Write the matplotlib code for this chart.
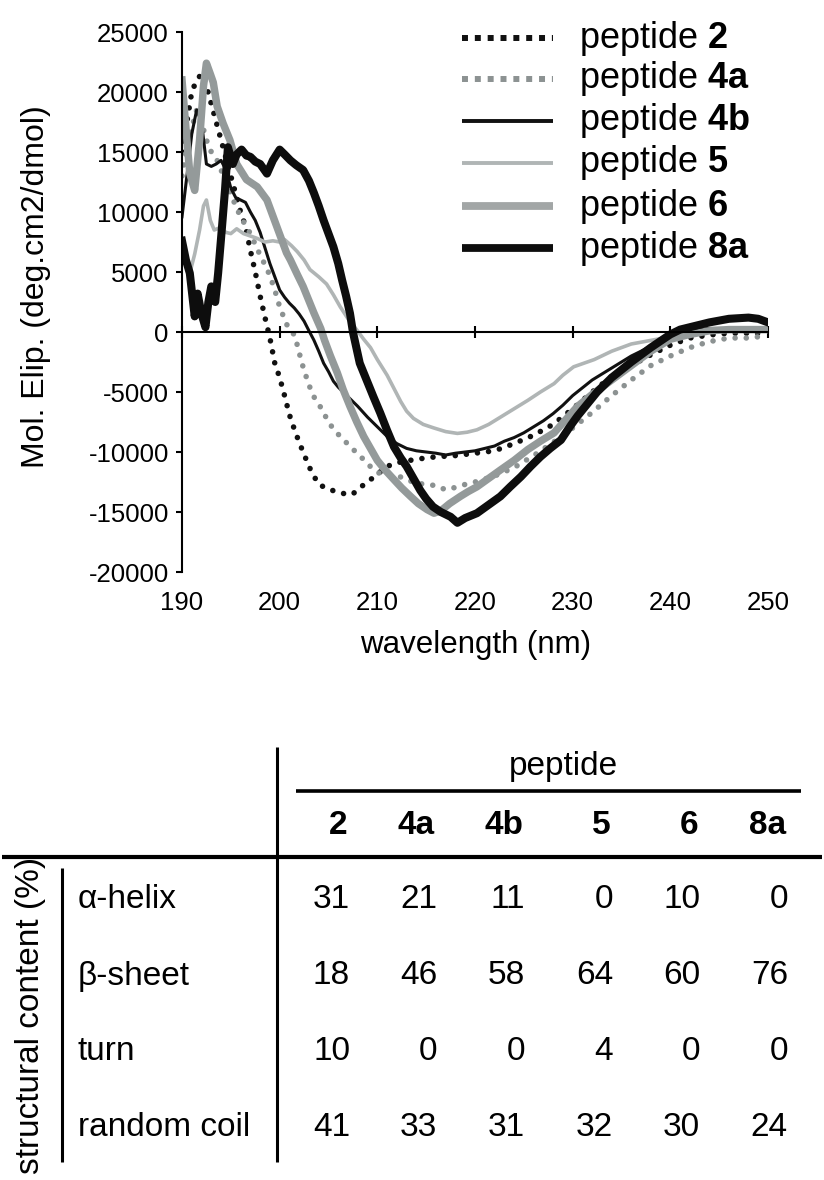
import matplotlib
matplotlib.use("Agg")
import matplotlib.pyplot as plt
from matplotlib.lines import Line2D

plt.rcParams['font.family'] = ['Liberation Sans', 'DejaVu Sans']
plt.rcParams['mathtext.fontset'] = 'custom'
plt.rcParams['mathtext.rm'] = 'Liberation Sans'
plt.rcParams['mathtext.bf'] = 'Liberation Sans:bold'

# ---------------- CD spectra data ----------------
wl_2 = [190, 190.5, 191, 191.5, 192, 192.5, 193, 193.5, 194, 194.5, 195, 195.5, 196,
        196.5, 197, 197.5, 198, 198.5, 199, 199.5, 200, 200.5, 201, 201.5, 202, 202.5,
        203, 203.5, 204, 205, 206, 207, 207.5, 208, 209, 210, 211, 212, 214, 216, 218,
        220, 222, 224, 226, 228, 230, 232, 234, 236, 238, 240, 242, 244, 246, 248, 250]
cd_2 = [15000, 17500, 20000, 21000, 21500, 20500, 19000, 17500, 16000, 14500, 13000,
        11500, 10000, 8800, 6800, 5000, 3000, 1200, -500, -2600, -3800, -5300, -6900,
        -8100, -9200, -10200, -11200, -12000, -12700, -13100, -13350, -13550, -13500,
        -13100, -12500, -11850, -11200, -10900, -10600, -10400, -10300, -10100, -9900,
        -9300, -8600, -7700, -6400, -5000, -3700, -2800, -1900, -1100, -500, -250, -100,
        -100, -100]

wl_4a = [190, 190.5, 191, 191.5, 192, 192.5, 193, 193.5, 194, 194.5, 195, 195.5, 196,
         196.5, 197, 197.5, 198, 198.5, 199, 199.5, 200, 200.7, 201.5, 201.9, 202.2,
         202.6, 203, 203.5, 204.2, 204.8, 205.5, 206.4, 207.3, 208.3, 209.3, 210.3, 211,
         212, 213, 214, 215, 216, 217, 218, 219, 220, 222, 224, 226, 228, 230, 232, 234,
         236, 238, 240, 242, 244, 246, 248, 250]
cd_4a = [13000, 15500, 17000, 18500, 17500, 16000, 15000, 14500, 13500, 12500, 11500,
         10500, 9600, 8900, 8200, 7300, 6400, 5600, 4700, 3500, 2100, 650, -250, -1360,
         -2390, -3440, -4420, -5390, -6280, -7190, -8110, -8860, -9610, -10390, -11220,
         -11830, -11900, -11950, -12300, -12600, -12700, -12800, -13150, -12950, -12700,
         -12500, -12000, -11300, -10300, -9200, -8000, -6700, -5300, -4000, -2800, -2000,
         -1300, -800, -500, -500, -300]

wl_4b = [190, 190.5, 191, 191.5, 192, 192.5, 193, 193.5, 194, 194.5, 195, 195.5, 196,
         196.5, 197, 197.5, 198, 198.5, 199, 199.5, 200, 200.5, 201, 201.5, 202, 202.5,
         203, 203.5, 204, 204.5, 205, 205.5, 206, 207, 208, 209, 210, 211, 212, 213, 214,
         215, 216, 217, 218, 219, 220, 221, 222, 223, 224, 225, 226, 227, 228, 229, 230,
         232, 234, 236, 238, 240, 242, 244, 246, 248, 250]
cd_4b = [9600, 13000, 16500, 18500, 17500, 14000, 13800, 14000, 14300, 13500, 12000,
         11200, 11000, 10800, 10000, 9300, 8300, 7000, 5700, 4600, 3500, 2900, 2400, 2000,
         1500, 900, 100, -670, -1600, -2600, -3300, -4100, -4600, -5400, -6200, -7100,
         -7900, -8700, -9300, -9700, -9900, -10000, -10100, -10250, -10100, -10000, -9900,
         -9700, -9500, -9100, -8800, -8400, -7900, -7400, -6800, -6100, -5300, -4000,
         -3000, -2000, -1200, -300, 100, 300, 300, 300, 200]

wl_5 = [190, 190.4, 190.8, 191.3, 191.8, 192.2, 192.5, 192.9, 193.3, 193.9, 194.5, 195,
        195.6, 196.3, 197, 197.7, 198.5, 199.3, 200, 200.5, 201.2, 201.8, 202.5, 203.1,
        204, 204.8, 205.5, 206.2, 207, 207.9, 208.6, 209.3, 210, 211, 211.7, 212.4, 213,
        213.7, 214.7, 215.8, 217, 218.2, 219.2, 220.2, 221.4, 222.6, 224, 225.4, 226.7,
        228.1, 229, 230.1, 232.2, 234, 236, 238, 240, 242, 244, 246, 248, 250]
cd_5 = [6800, 5500, 4900, 6500, 8500, 10500, 11000, 9300, 8500, 8700, 8300, 8200, 8600,
        8200, 8000, 7800, 7500, 7600, 7500, 7700, 7200, 6700, 6000, 5200, 4600, 4000, 3100,
        2100, 1100, 170, -600, -1300, -2300, -3600, -4700, -5800, -6600, -7200, -7700,
        -8000, -8300, -8450, -8350, -8150, -7700, -7100, -6400, -5700, -5000, -4300, -3600,
        -2900, -2300, -1600, -1000, -700, -400, -100, 0, 100, 200, 100]

wl_6 = [190, 190.5, 190.8, 191.3, 191.8, 192.2, 192.5, 192.9, 193.2, 193.6, 194.2, 194.9,
        195.6, 196.6, 197.7, 198.7, 199.7, 200.7, 201.1, 201.8, 202.4, 203, 203.5, 204.2,
        204.6, 205.2, 205.9, 206.5, 207.2, 207.9, 208.6, 209.3, 210, 210.8, 211.7, 212.5,
        213.4, 214.2, 215.1, 215.8, 216.5, 217.4, 218.5, 219.3, 220.2, 221.4, 222.6, 224,
        225.4, 226.7, 228.1, 229.3, 230.5, 232, 234, 236, 238, 240, 242, 244, 246, 248, 250]
cd_6 = [21000, 16000, 13200, 11800, 16000, 20500, 22400, 21500, 20800, 18800, 17400,
        16000, 14000, 12700, 12100, 11000, 8800, 6600, 6000, 4800, 3800, 2600, 1600, 300,
        -700, -2000, -3400, -4800, -6200, -7500, -8700, -9700, -10700, -11500, -12300,
        -13000, -13700, -14300, -14800, -15100, -14900, -14300, -13700, -13300, -12900,
        -12200, -11500, -10700, -9800, -9100, -8400, -7300, -6200, -5200, -4000, -2800,
        -1600, -600, -200, 100, 200, 200, 200]

wl_8a = [190, 190.4, 190.8, 191.3, 191.6, 192, 192.4, 192.7, 193, 193.4, 193.7, 194.1,
         194.4, 194.7, 195.2, 195.6, 196.1, 196.6, 197, 197.5, 198, 198.7, 199.3, 200,
         200.5, 201.1, 201.7, 202.4, 203, 203.5, 204, 204.5, 205, 205.5, 206, 206.4, 206.8,
         207.2, 207.5, 208.2, 208.9, 209.6, 210.3, 211, 211.7, 212.4, 213, 213.7, 214.4,
         215, 215.7, 216.5, 217.5, 218.2, 219, 220.2, 221.4, 222.6, 223.6, 224.7, 225.7,
         226.7, 227.7, 228.8, 229.7, 230.5, 231.5, 232.5, 234, 236, 238, 240, 241, 242,
         244, 246, 248, 249, 250]
cd_8a = [7600, 6000, 4900, 1300, 3200, 1500, 400, 2500, 3800, 2500, 4900, 8800, 11800,
         15400, 14000, 14800, 15200, 14700, 14600, 14200, 14000, 13200, 14300, 15200,
         14800, 14300, 13900, 13500, 12600, 11600, 10500, 9300, 8200, 7100, 5700, 4300,
         3000, 1550, 0, -2600, -4000, -5400, -6750, -8200, -9560, -10500, -11200, -12200,
         -13200, -13900, -14560, -15000, -15400, -15900, -15500, -15100, -14400, -13700,
         -12900, -12060, -11200, -10400, -9700, -9000, -7900, -7000, -6000, -5000, -3800,
         -2500, -1300, -200, 200, 400, 800, 1100, 1200, 1100, 800]

series_labels = ['2', '4a', '4b', '5', '6', '8a']
x_ticks = [190, 200, 210, 220, 230, 240, 250]
y_ticks = [25000, 20000, 15000, 10000, 5000, 0, -5000, -10000, -15000, -20000]

# ---------------- table data ----------------
structures = ['α-helix', 'β-sheet', 'turn', 'random coil']
helix = [31, 21, 11, 0, 10, 0]
sheet = [18, 46, 58, 64, 60, 76]
turn = [10, 0, 0, 4, 0, 0]
coil = [41, 33, 31, 32, 30, 24]

# ---------------- figure ----------------
W, H = 824, 1180
fig = plt.figure(figsize=(W / 100, H / 100), dpi=100)


def fx(px):
    return px / W


def fy(py):
    return 1 - py / H


ax = fig.add_axes([fx(182), fy(572), fx(768) - fx(182), fy(32) - fy(572)])

styles = [
    dict(color='#111111', lw=4.0, linestyle=(0, (0.01, 2.0)), dash_capstyle='round'),
    dict(color='#8c9292', lw=4.0, linestyle=(0, (0.01, 2.0)), dash_capstyle='round'),
    dict(color='#111111', lw=2.2, linestyle='-'),
    dict(color='#b0b5b5', lw=2.6, linestyle='-'),
    dict(color='#949a9a', lw=5.4, linestyle='-'),
    dict(color='#0d0d0d', lw=5.8, linestyle='-'),
]
data = [(wl_2, cd_2), (wl_4a, cd_4a), (wl_4b, cd_4b), (wl_5, cd_5), (wl_6, cd_6),
        (wl_8a, cd_8a)]
for (xs, ys), st in zip(data, styles):
    ax.plot(xs, ys, solid_joinstyle='round', **st)

ax.set_xlim(190, 250)
ax.set_ylim(-20000, 25000)
for s in ['top', 'right']:
    ax.spines[s].set_visible(False)
ax.spines['bottom'].set_position(('data', 0))
ax.spines['bottom'].set_linewidth(1.5)
ax.spines['left'].set_linewidth(1.5)
ax.set_xticks(x_ticks)
ax.set_yticks(y_ticks)
ax.set_yticklabels([str(v) for v in y_ticks])
ax.tick_params(axis='x', direction='inout', length=9, width=1.5, labelbottom=False)
ax.tick_params(axis='y', direction='out', length=4.5, width=1.5, labelsize=18.5, pad=5)
for t in x_ticks:
    ax.text(t, -0.057, str(t), transform=ax.get_xaxis_transform(), ha='center',
            va='center', fontsize=18.5)

fig.text(fx(36), fy(287), 'Mol. Elip. (deg.cm2/dmol)', rotation=90, ha='center',
         va='center', fontsize=23)
fig.text(fx(476), fy(645), 'wavelength (nm)', ha='center', va='center', fontsize=22.5)

# legend drawn manually
leg_y = [38, 79, 121, 163, 206, 248]
leg_styles = [
    dict(color='#111111', lw=4.3, linestyle=(0, (1, 1.15)), dash_capstyle='butt'),
    dict(color='#8c9292', lw=4.3, linestyle=(0, (1, 1.15)), dash_capstyle='butt'),
    dict(color='#111111', lw=2.8, linestyle='-'),
    dict(color='#b0b5b5', lw=2.8, linestyle='-'),
    dict(color='#a2a6a6', lw=5.6, linestyle='-'),
    dict(color='#0d0d0d', lw=5.6, linestyle='-'),
]
for lab, yy, st in zip(series_labels, leg_y, leg_styles):
    fig.add_artist(Line2D([fx(462), fx(553)], [fy(yy), fy(yy)],
                          transform=fig.transFigure, solid_capstyle='butt', **st))
    fig.text(fx(579), fy(yy), 'peptide $\\mathbf{' + lab + '}$', ha='left',
             va='center', fontsize=26)

# ---------------- table ----------------
def hline(x0, x1, y, lw):
    fig.add_artist(Line2D([fx(x0), fx(x1)], [fy(y), fy(y)], transform=fig.transFigure,
                          color='black', lw=lw, solid_capstyle='butt'))


def vline(x, y0, y1, lw):
    fig.add_artist(Line2D([fx(x), fx(x)], [fy(y0), fy(y1)], transform=fig.transFigure,
                          color='black', lw=lw, solid_capstyle='butt'))


TFS = 24
fig.text(fx(563), fy(767), 'peptide', ha='center', va='center', fontsize=TFS)
hline(296, 801, 791, 2.6)
col_right = [350, 437, 525, 613, 700, 788]
for lab, xr in zip(series_labels, col_right):
    fig.text(fx(xr - 2), fy(825), lab, ha='right', va='center', fontsize=TFS,
             fontweight='bold')
hline(2, 822, 857, 3.0)
vline(277, 747, 1162, 2.2)
vline(62, 868, 1162, 2.2)
fig.text(fx(31), fy(1015), 'structural content (%)', rotation=90, ha='center',
         va='center', fontsize=TFS)
row_y = [900, 976, 1052, 1128]
for name, vals, yy in zip(structures, [helix, sheet, turn, coil], row_y):
    fig.text(fx(78), fy(yy), name, ha='left', va='center', fontsize=TFS)
    for v, xr in zip(vals, col_right):
        fig.text(fx(xr), fy(yy), str(v), ha='right', va='center', fontsize=TFS)

fig.savefig('out.png', dpi=100)
